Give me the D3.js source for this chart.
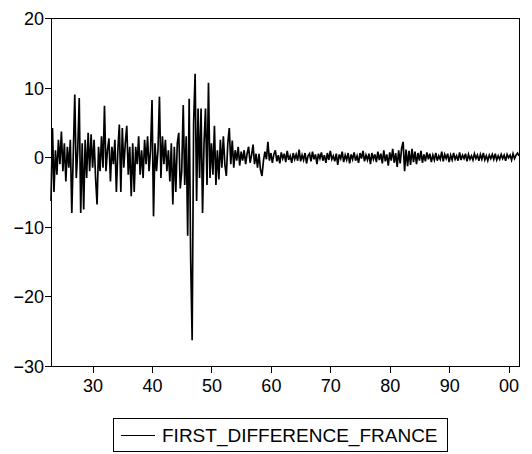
<!DOCTYPE html>
<html><head><meta charset="utf-8">
<script src="https://cdn.jsdelivr.net/npm/d3@7"></script>
<style>body{margin:0;background:#fff}svg{display:block}text{font-family:"Liberation Sans",Arial,sans-serif;fill:#000}</style>
</head><body>
<svg id="c" width="532" height="454"></svg>
<script>
const seriesName = "FIRST_DIFFERENCE_FRANCE";
const startYear = 1923; // quarterly, 1923Q1 .. 2001Q4
const values = [
 -6.3, 4.2, -5, 1.0, -2.5, 2.5, -1.0, 3.7, -2.0, 2.0,
 -3.5, 1.5, -1.5, 2.5, -8.0, 0.5, 9.0, -3.0, 1.0, 8.5,
 -8.0, 2.0, -7.5, 2.5, -3.0, 3.5, -2.0, 3.3,
 -1.5, 2.5, -3, -6.8, 1.5, -2, 3, -1.5, 7.4, -2,
 1, 2.7, -3.5, 1.5, -1, 2.5, -5, 1, 4.7, -5,
 4.2, -1.5, 2, 4.5, -2.5, 1.5, -5.6, 2, -5, 1.5,
 -1, 3, -2.5, 1, -3, 2.5, -1, 3, -2, 1,
 8.2, -8.5, 2, -2, 1, 8.7, -3, 3, -1, 2.5,
 -2, 1, -3.5, 2, -6.8, 1.5, -5, 2, 3.5, -4.5,
 -2, 7.5, -4, 3, -11.3, 8.4, -14.6, -26.3, 5, 12,
 -6.3, 7, -3, 7, -8, 2, 7, -4, 10.7, -3,
 2, -2.5, 4.5, -4, 1, -3.2, 2.5, -1.5, 3, -1,
 -2.7, 2, 4.2, -1, 2.4, -1.5, 1, -0.5, 1.5, -1.2,
 0.8, -0.5, 1, -1, 0.5, 1.5, -0.8, 0.3, 1.8, -1,
 0.5, -1.5,
 0.5, -1.8, -2.7, -0.5, 0.8, -0.3, 2.2, -0.5, 0.6, -0.8,
 0.4, 1.0, -0.6, 0.3, -0.9, 0.7, -0.2, 0.5, -0.7, 0.9,
 -0.4, 0.2, -0.8, 0.6, -0.3, 0.4, -0.5, 1.1, -0.6, 0.3,
 -0.4, 0.6, -0.9, 0.2, 0.5, -0.6, 0.8, -0.3, 0.4, -1.0,
 0.5, -0.2, 0.7, -0.5, 0.3, -0.8, 0.6, -0.4, 0.9, -0.3,
 0.2, -0.6, 0.5, -1.1, 0.4, -0.2, 0.8, -0.7, 0.3, -0.4,
 0.6, -0.9, 0.4, -0.3, 0.7, -0.5, 0.2, -0.8, 0.6, -0.2,
 0.9, -0.6, 0.3, -0.4, 0.5, -1.0, 0.6, -0.3, 0.4, -0.7,
 0.8, -0.4, 0.5, -0.9, 1.0, -0.6, 0.4, -1.2, 0.7, -0.5,
 1.2, -0.8, 0.6, -1.4, 1.0, -0.9, 1.3, 2.2, -2.0, 1.1,
 -1.3, 0.9, -1.1, 1.2, -0.7, 0.8, -1.0, 0.6, -0.5, 0.9,
 -0.8, 0.4, -0.6, 0.7, -0.3, 0.5, -0.7, 0.3, -0.4, 0.6,
 -0.5, 0.2, -0.3, 0.8, -0.6, 0.4, -0.2, 0.5, -0.7, 0.3,
 -0.4, 0.6, -0.3, 0.2, -0.5, 0.7, -0.4, 0.3, -0.2, 0.5,
 -0.6, 0.4, -0.3, 0.2, -0.4, 0.5, -0.2, 0.3, -0.5, 0.4,
 -0.3, 0.6, -0.4, 0.2, -0.5, 0.3, -0.2, 0.4, -0.3, 0.5,
 -0.4, 0.2, -0.3, 0.4, -0.2, 0.3, -0.5, 0.4, -0.1, 0.3,
 -0.4, 0.5, -0.2, 0.3, 0.6, 0.2
];
const yTicks = [20, 10, 0, -10, -20, -30];
const xTicks = [1930, 1940, 1950, 1960, 1970, 1980, 1990, 2000];
const xTickLabels = ["30", "40", "50", "60", "70", "80", "90", "00"];

const data = values.map((v, i) => ({t: startYear + i / 4, v}));
const L = 51, R = 519, T = 18, B = 366;
const svg = d3.select("#c");
const x = d3.scaleLinear().domain(d3.extent(data, d => d.t)).range([L, R]);
const y = d3.scaleLinear().domain([-30, 20]).range([B, T]);

const yAxis = svg.append("g").attr("transform", `translate(${L},0)`)
  .call(d3.axisLeft(y).tickValues(yTicks).tickSize(6).tickPadding(1).tickFormat(d3.format("d")));
const xAxis = svg.append("g").attr("transform", `translate(0,${B})`)
  .call(d3.axisBottom(x).tickValues(xTicks).tickSize(7).tickPadding(6).tickFormat((d, i) => xTickLabels[i]));
[yAxis, xAxis].forEach(g => {
  g.select(".domain").remove();
  g.selectAll("line").attr("stroke", "#000").attr("shape-rendering", "crispEdges");
  g.selectAll("text").style("font-size", "18px").attr("fill", "#000");
});
yAxis.selectAll("text").attr("dy", "0.36em");

svg.append("rect").attr("x", L).attr("y", T).attr("width", R - L).attr("height", B - T)
  .attr("fill", "none").attr("stroke", "#000").attr("stroke-width", 1).attr("shape-rendering", "crispEdges");

svg.append("path").datum(data)
  .attr("fill", "none").attr("stroke", "#000").attr("stroke-width", 1.7)
  .attr("d", d3.line().x(d => x(d.t)).y(d => y(d.v)));

const lg = svg.append("g");
lg.append("rect").attr("x", 113.5).attr("y", 418.5).attr("width", 334).attr("height", 33)
  .attr("fill", "none").attr("stroke", "#000").attr("stroke-width", 1);
lg.append("line").attr("x1", 121).attr("x2", 155).attr("y1", 435.5).attr("y2", 435.5)
  .attr("stroke", "#000").attr("stroke-width", 1);
lg.append("text").attr("x", 162).attr("y", 442).style("font-size", "19px").text(seriesName);
</script>
</body></html>
